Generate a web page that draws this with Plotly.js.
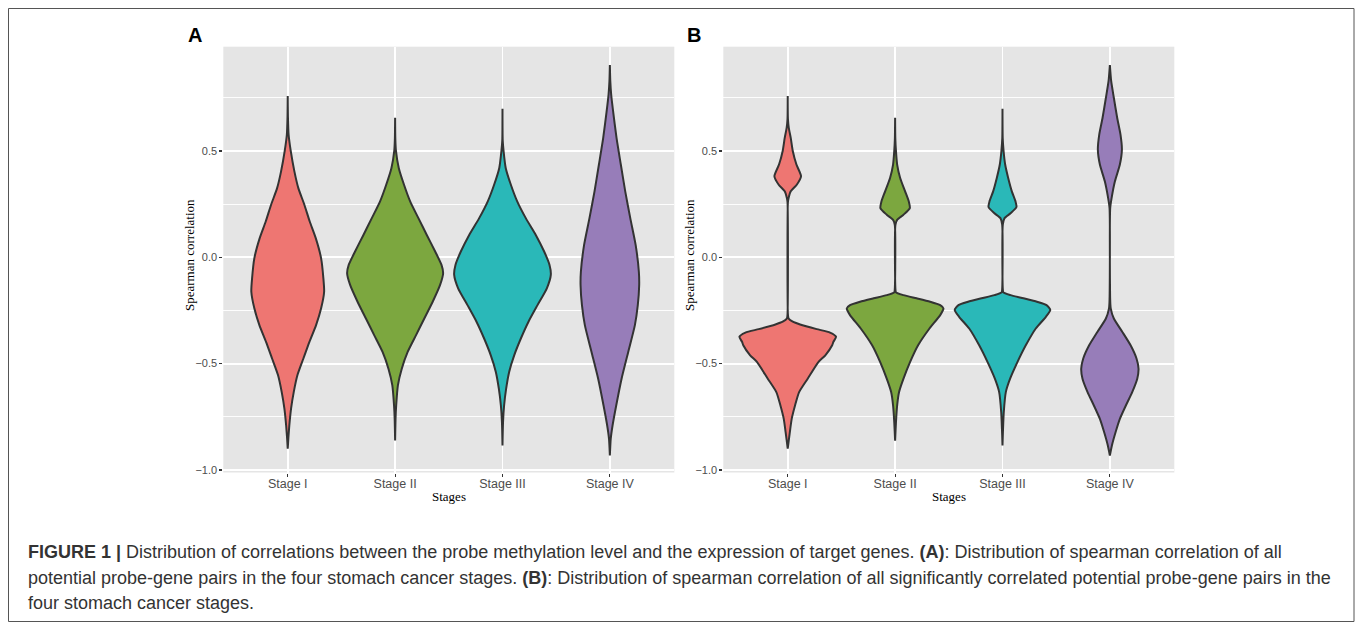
<!DOCTYPE html>
<html>
<head>
<meta charset="utf-8">
<script src="https://cdn.plot.ly/plotly-3.0.1.min.js"></script>
<style>html,body{margin:0;padding:0;background:#fff;}#chart{width:1358px;height:623px;}</style>
</head>
<body>
<div id="chart"></div>
<script>
// ---- data ----
const stages = ['Stage I', 'Stage II', 'Stage III', 'Stage IV'];
const yTickVals = [-1, -0.5, 0, 0.5];
const yTickText = ['\u22121.0', '\u22120.5', '0.0', '0.5'];
const fillColors = ['#EE7672', '#7CA73F', '#2AB8B8', '#977DB9'];

// Panel A: violin profiles (correlation value, half width of density)
const yA1 = [0.758, 0.66, 0.577, 0.5, 0.404, 0.325, 0.247, 0.168, 0.09, -0.005, -0.099, -0.162, -0.24, -0.319, -0.398, -0.476, -0.555, -0.634, -0.712, -0.79, -0.85, -0.9];
const wA1 = [0, 0.002, 0.008, 0.028, 0.062, 0.099, 0.155, 0.205, 0.261, 0.311, 0.332, 0.339, 0.311, 0.264, 0.202, 0.146, 0.09, 0.056, 0.031, 0.015, 0.006, 0];
const yA2 = [0.656, 0.56, 0.5, 0.42, 0.341, 0.263, 0.184, 0.105, 0.027, -0.036, -0.075, -0.13, -0.209, -0.288, -0.366, -0.445, -0.524, -0.602, -0.697, -0.76, -0.862];
const wA2 = [0, 0.002, 0.008, 0.034, 0.083, 0.14, 0.217, 0.295, 0.373, 0.432, 0.447, 0.419, 0.35, 0.272, 0.195, 0.117, 0.062, 0.026, 0.01, 0.004, 0];
const yA3 = [0.698, 0.55, 0.5, 0.42, 0.341, 0.263, 0.184, 0.105, 0.027, -0.036, -0.083, -0.146, -0.225, -0.303, -0.382, -0.461, -0.539, -0.618, -0.697, -0.775, -0.885];
const wA3 = [0, 0.002, 0.01, 0.03, 0.078, 0.137, 0.217, 0.31, 0.388, 0.438, 0.45, 0.413, 0.326, 0.242, 0.171, 0.109, 0.062, 0.034, 0.015, 0.005, 0];
const yA4 = [0.904, 0.829, 0.766, 0.687, 0.561, 0.436, 0.31, 0.184, 0.058, -0.068, -0.13, -0.225, -0.319, -0.445, -0.571, -0.697, -0.791, -0.854, -0.932];
const wA4 = [0, 0.004, 0.012, 0.03, 0.062, 0.102, 0.143, 0.19, 0.24, 0.27, 0.273, 0.26, 0.233, 0.171, 0.109, 0.059, 0.025, 0.008, 0];

// Panel B: violin profiles
const yB1 = [0.758, 0.65, 0.608, 0.561, 0.5, 0.436, 0.381, 0.341, 0.31, 0.278, 0.26, -0.27, -0.288, -0.303, -0.316, -0.338, -0.354, -0.374, -0.398, -0.414, -0.461, -0.492, -0.571, -0.634, -0.697, -0.76, -0.821, -0.9];
const wB1 = [0, 0.002, 0.01, 0.028, 0.047, 0.081, 0.124, 0.084, 0.028, 0.008, 0.002, 0.002, 0.008, 0.047, 0.115, 0.27, 0.394, 0.45, 0.425, 0.414, 0.35, 0.287, 0.186, 0.106, 0.068, 0.037, 0.02, 0];
const yB2 = [0.656, 0.56, 0.5, 0.436, 0.373, 0.31, 0.263, 0.231, 0.2, 0.176, 0.153, -0.15, -0.165, -0.178, -0.193, -0.209, -0.225, -0.24, -0.272, -0.335, -0.414, -0.492, -0.571, -0.634, -0.697, -0.775, -0.862];
const wB2 = [0, 0.002, 0.008, 0.019, 0.047, 0.093, 0.127, 0.137, 0.078, 0.019, 0.003, 0.003, 0.008, 0.078, 0.2, 0.326, 0.42, 0.45, 0.42, 0.32, 0.214, 0.14, 0.078, 0.037, 0.019, 0.008, 0];
const yB3 = [0.698, 0.56, 0.5, 0.436, 0.373, 0.31, 0.263, 0.236, 0.208, 0.184, 0.153, -0.15, -0.165, -0.178, -0.193, -0.209, -0.225, -0.248, -0.28, -0.335, -0.414, -0.492, -0.571, -0.634, -0.728, -0.807, -0.885];
const wB3 = [0, 0.002, 0.01, 0.025, 0.053, 0.087, 0.121, 0.13, 0.078, 0.019, 0.003, 0.003, 0.008, 0.075, 0.195, 0.32, 0.41, 0.445, 0.404, 0.31, 0.217, 0.14, 0.071, 0.031, 0.012, 0.005, 0];
const yB4 = [0.904, 0.829, 0.75, 0.656, 0.577, 0.506, 0.436, 0.357, 0.278, 0.231, -0.2, -0.24, -0.288, -0.35, -0.414, -0.476, -0.524, -0.571, -0.634, -0.697, -0.76, -0.823, -0.885, -0.932];
const wB4 = [0, 0.012, 0.037, 0.068, 0.099, 0.112, 0.093, 0.047, 0.016, 0.003, 0.003, 0.008, 0.037, 0.115, 0.193, 0.248, 0.267, 0.255, 0.208, 0.149, 0.093, 0.053, 0.019, 0];

const panelA = [[yA1, wA1], [yA2, wA2], [yA3, wA3], [yA4, wA4]];
const panelB = [[yB1, wB1], [yB2, wB2], [yB3, wB3], [yB4, wB4]];

const captionLine1 = '<b>FIGURE 1 |</b> Distribution of correlations between the probe methylation level and the expression of target genes. <b>(A)</b>: Distribution of spearman correlation of all';
const captionLine2 = 'potential probe-gene pairs in the four stomach cancer stages. <b>(B)</b>: Distribution of spearman correlation of all significantly correlated potential probe-gene pairs in the';
const captionLine3 = 'four stomach cancer stages.';

// ---- build ----
const W = 1358, H = 623;
const px = x => x / W;
const py = y => 1 - y / H;

function violin(center, ys, ws, color, xa, ya) {
  const left = ys.map((y, i) => center - ws[i]);
  const right = ys.map((y, i) => center + ws[i]).reverse();
  return {
    type: 'scatter', mode: 'lines', xaxis: xa, yaxis: ya,
    x: left.concat(right, [left[0]]),
    y: ys.concat(ys.slice().reverse(), [ys[0]]),
    fill: 'toself', fillcolor: color,
    line: {color: '#333333', width: 2, shape: 'spline', smoothing: 0.6},
    hoverinfo: 'skip', showlegend: false
  };
}

const traces = [];
panelA.forEach((p, i) => traces.push(violin(i + 1, p[0], p[1], fillColors[i], 'x', 'y')));
panelB.forEach((p, i) => traces.push(violin(i + 1, p[0], p[1], fillColors[i], 'x2', 'y2')));

const tickFontX = {family: 'Liberation Sans, Arial, sans-serif', size: 12.5, color: '#4D4D4D'};
const tickFontY = {family: 'Liberation Sans, Arial, sans-serif', size: 11, color: '#4D4D4D'};

function xAxis(d0, d1, anchor) {
  return {
    domain: [px(d0), px(d1)], anchor: anchor, range: [0.4, 4.6],
    tickmode: 'array', tickvals: [1, 2, 3, 4], ticktext: stages,
    showgrid: true, gridcolor: '#FFFFFF', gridwidth: 1.8,
    ticks: 'outside', ticklen: 3, tickwidth: 1.2, tickcolor: '#333333',
    ticklabelstandoff: -4,
    tickfont: tickFontX, zeroline: false, showline: false, fixedrange: true
  };
}
function yAxis(anchor) {
  return {
    domain: [py(472.5), py(46.7)], anchor: anchor, range: [-1.012, 0.99],
    tickmode: 'array', tickvals: yTickVals, ticktext: yTickText,
    showgrid: true, gridcolor: '#FFFFFF', gridwidth: 1.8,
    minor: {tickmode: 'array', tickvals: [-0.75, -0.25, 0.25, 0.75], showgrid: true, gridcolor: '#FFFFFF', gridwidth: 0.9, ticks: ''},
    ticks: 'outside', ticklen: 3, tickwidth: 1.2, tickcolor: '#333333',
    tickfont: tickFontY, zeroline: false, showline: false, fixedrange: true
  };
}

const serif = {family: 'Liberation Serif, Times New Roman, serif', size: 13, color: '#000000'};
const capFont = {family: 'Liberation Sans, Arial, sans-serif', size: 18, color: '#333333'};

function ann(text, x, y, opts) {
  return Object.assign({text: text, x: px(x), y: py(y), xref: 'paper', yref: 'paper', showarrow: false, xanchor: 'center', yanchor: 'middle'}, opts || {});
}

const annotations = [
  ann('<b>A</b>', 194.5, 35.5, {font: {family: 'Liberation Sans, Arial, sans-serif', size: 20, color: '#000'}}),
  ann('<b>B</b>', 693.5, 35.5, {font: {family: 'Liberation Sans, Arial, sans-serif', size: 20, color: '#000'}}),
  ann('Spearman correlation', 190, 255, {font: serif, textangle: -90}),
  ann('Spearman correlation', 690, 255, {font: serif, textangle: -90}),
  ann('Stages', 448.8, 496.5, {font: serif}),
  ann('Stages', 948.8, 496.5, {font: serif}),
  ann(captionLine1, 26, 552, {font: capFont, xanchor: 'left'}),
  ann(captionLine2, 26, 577.5, {font: capFont, xanchor: 'left'}),
  ann(captionLine3, 26, 603, {font: capFont, xanchor: 'left'})
];

const layout = {
  width: W, height: H,
  margin: {l: 0, r: 0, t: 0, b: 0},
  paper_bgcolor: '#FFFFFF', plot_bgcolor: '#E5E5E5',
  showlegend: false,
  xaxis: xAxis(223.3, 674.3, 'y'),
  yaxis: yAxis('x'),
  xaxis2: xAxis(723.3, 1174.3, 'y2'),
  yaxis2: yAxis('x2'),
  annotations: annotations,
  shapes: [{type: 'rect', xref: 'paper', yref: 'paper', x0: px(8.5), x1: px(1354), y0: py(621.5), y1: py(8.5), line: {color: '#555555', width: 1}, fillcolor: 'rgba(0,0,0,0)'}]
};

Plotly.newPlot('chart', traces, layout, {displayModeBar: false, staticPlot: true});
</script>
</body>
</html>
